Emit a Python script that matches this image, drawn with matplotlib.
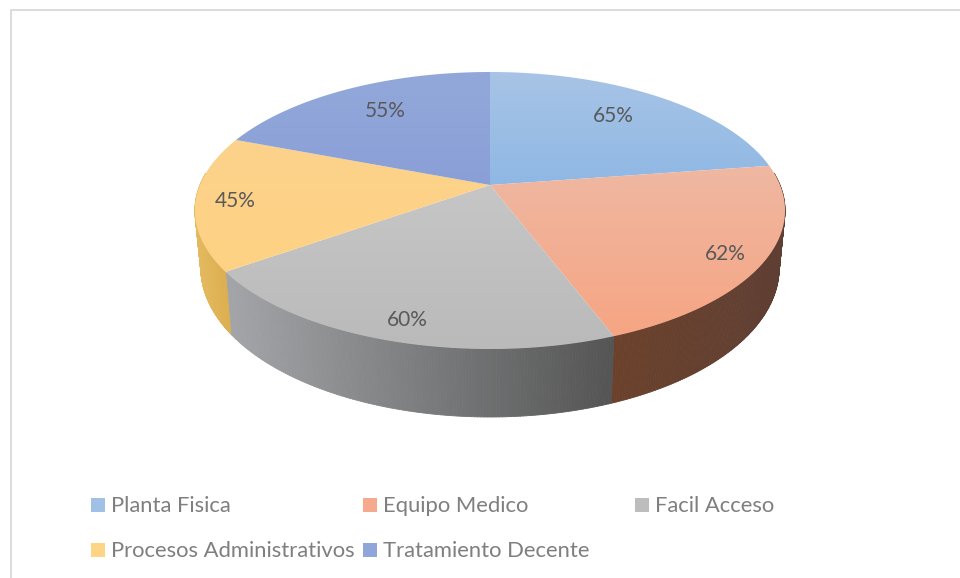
"""Perspective pie with a rim, drawn by hand since matplotlib's pie is flat."""
import numpy as np
import matplotlib.pyplot as plt
from matplotlib.collections import PolyCollection
from matplotlib.patches import Polygon, Rectangle
from matplotlib.colors import to_rgb

plt.rcParams["font.family"] = ["Lato", "DejaVu Sans"]

categories = ["Planta Fisica", "Equipo Medico", "Facil Acceso",
              "Procesos Administrativos", "Tratamiento Decente"]
values = [65, 62, 60, 45, 55]

# top surface gradient per slice (top colour, bottom colour)
top_colors = [("#a8c4e6", "#8fb8e4"), ("#efb8a2", "#f6a583"), ("#c6c6c6", "#bababa"),
              ("#fcd28c", "#ffd384"), ("#93a8da", "#8a9fd6")]
# rim colour per slice, left to right
rim_colors = [("#6f8fb8", "#6f8fb8"), ("#6b412c", "#5f3f33"), ("#a3a5a8", "#545454"),
              ("#e4ba62", "#dcb050"), ("#6f80aa", "#6f80aa")]
legend_colors = ["#a0c0e6", "#f6a98c", "#bdbdbd", "#ffd485", "#90a5d9"]
label_xy = [(613, 116), (725, 254), (407, 320), (235, 201), (385, 111)]
legend_xy = [(91, 505), (363, 505), (635, 505), (91, 550), (363, 550)]

# projection of the pie plane (pixels)
CX, CY = 490, 185
A, B, K = 290, 133.8, 0.184
DEPTH, SHRINK = 55.5, 0.98


def top_point(deg):
    a = np.radians(deg)
    u, v = np.cos(a), np.sin(a)
    d = 1 + K * v
    return CX + A * u / d, CY - B * v / d


def bottom_point(deg):
    a = np.radians(deg)
    x, y = top_point(deg)
    return CX + (x - CX) * SHRINK, y + DEPTH / (1 + K * np.sin(a))


fig = plt.figure(figsize=(9.6, 5.78), dpi=100)
ax = fig.add_axes([0, 0, 1, 1])
ax.set_xlim(0, 960)
ax.set_ylim(578, 0)
ax.axis("off")

# chart frame, cropped by the image on the right and bottom
ax.plot([10.5, 10.5, 960], [578, 9.5, 9.5], color="#d9d9d9", lw=1.3)

# slice boundaries, clockwise from 12 o'clock
edges = 90 - np.cumsum([0] + values) / sum(values) * 360

# rim: only the front half is visible, clip each slice to it
quads, quad_colors = [], []
for i in range(len(values)):
    lo, hi = max(edges[i + 1], -185), min(edges[i], 5)
    if hi <= lo:
        continue
    angs = np.linspace(lo, hi, 150)
    c0, c1 = np.array(to_rgb(rim_colors[i][0])), np.array(to_rgb(rim_colors[i][1]))
    xs = [top_point(a)[0] for a in angs]
    x0, x1 = min(xs), max(xs)
    for a, b in zip(angs[:-1], angs[1:]):
        quads.append([top_point(a), top_point(b), bottom_point(b), bottom_point(a)])
        f = (top_point(a)[0] - x0) / max(x1 - x0, 1)
        quad_colors.append(c0 + (c1 - c0) * f)
ax.add_collection(PolyCollection(quads, facecolors=quad_colors, edgecolors=quad_colors, lw=0.6))

# top surface, gradient clipped to each slice
for i in range(len(values)):
    angs = np.linspace(edges[i], edges[i + 1], 120)
    pts = [top_point(a) for a in angs] + [(CX, CY)]
    poly = Polygon(pts, closed=True, facecolor="none", edgecolor="none")
    ax.add_patch(poly)
    ys = [p[1] for p in pts]
    xs = [p[0] for p in pts]
    c0, c1 = np.array(to_rgb(top_colors[i][0])), np.array(to_rgb(top_colors[i][1]))
    grad = np.linspace(0, 1, 64)[:, None, None] * (c1 - c0) + c0
    im = ax.imshow(grad, extent=(min(xs) - 1, max(xs) + 1, max(ys) + 1, min(ys) - 1),
                   aspect="auto", zorder=2, interpolation="bilinear")
    im.set_clip_path(poly)
ax.set_xlim(0, 960)
ax.set_ylim(578, 0)

for val, (x, y) in zip(values, label_xy):
    ax.text(x, y, f"{val}%", ha="center", va="center", fontsize=15, color="#595959", zorder=3)

for name, col, (x, y) in zip(categories, legend_colors, legend_xy):
    ax.add_patch(Rectangle((x, y - 7), 14, 14, facecolor=col, edgecolor="none"))
    ax.text(x + 20, y + 1, name, ha="left", va="center", fontsize=15.8, color="#7f7f7f")

fig.savefig("out.png", dpi=100)
